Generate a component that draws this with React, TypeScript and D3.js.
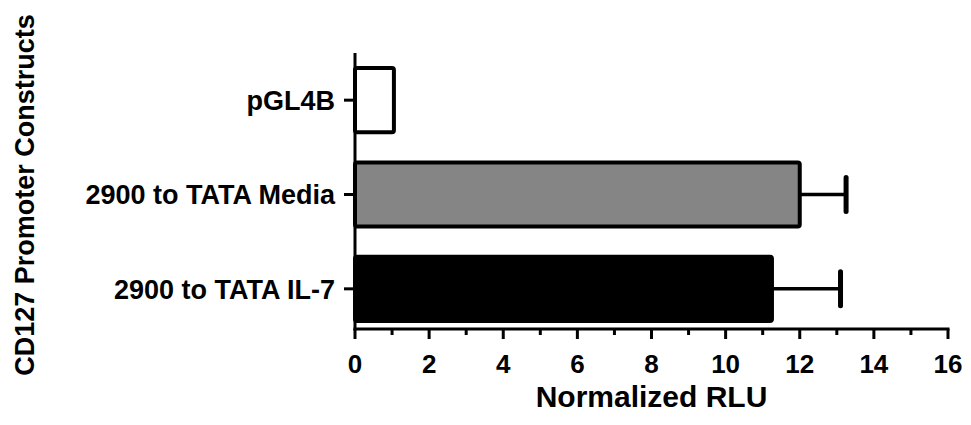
import React from "react";
import * as d3 from "d3";

const categories = ["pGL4B", "2900 to TATA Media", "2900 to TATA IL-7"];
const means = [1.05, 12.0, 11.25];
const errors = [0, 1.25, 1.85];
const xTickValues = [0, 2, 4, 6, 8, 10, 12, 14, 16];
const xTitle = "Normalized RLU";
const yTitle = "CD127 Promoter Constructs";

const barFills: Record<string, string> = {
  "pGL4B": "#ffffff",
  "2900 to TATA Media": "#858585",
  "2900 to TATA IL-7": "#000000",
};

const W = 971;
const H = 425;
const margin = { top: 53, right: 23, bottom: 93, left: 355 };
const font = "'Liberation Sans', Arial, sans-serif";

export default function App() {
  const x = d3.scaleLinear().domain([0, 16]).range([margin.left, W - margin.right]);
  const y = d3
    .scaleBand<string>()
    .domain(categories)
    .range([margin.top, H - margin.bottom + 4])
    .paddingInner(0.32)
    .paddingOuter(0.16);
  const axisY = H - margin.bottom - 3;
  const minor = x.ticks(16).filter((t) => t % 2 !== 0);

  const rows = categories.map((c, i) => ({ c, m: means[i], e: errors[i] }));

  return (
    <svg
      width={W}
      height={H}
      style={{ position: "absolute", left: 0, top: 0, background: "#fff" }}
      fontFamily={font}
      fontWeight="bold"
    >
      {/* bars */}
      {rows.map((d) => {
        const y0 = y(d.c)!;
        const bw = y.bandwidth();
        const cy = y0 + bw / 2;
        return (
          <g key={d.c}>
            {d.e > 0 && (
              <g stroke="#000" strokeLinecap="round">
                <line x1={x(d.m)} x2={x(d.m + d.e)} y1={cy} y2={cy} strokeWidth={3.5} />
                <line x1={x(d.m + d.e)} x2={x(d.m + d.e)} y1={cy - 17} y2={cy + 17} strokeWidth={5} />
              </g>
            )}
            <rect
              x={x(0)}
              y={y0}
              width={x(d.m) - x(0)}
              height={bw}
              rx={2}
              fill={barFills[d.c]}
              stroke="#000"
              strokeWidth={4}
            />
          </g>
        );
      })}

      {/* y axis */}
      <line x1={x(0)} x2={x(0)} y1={margin.top} y2={axisY + 1.5} stroke="#000" strokeWidth={3} />
      {categories.map((c) => {
        const cy = y(c)! + y.bandwidth() / 2;
        return (
          <g key={c}>
            <line x1={x(0) - 11} x2={x(0)} y1={cy} y2={cy} stroke="#000" strokeWidth={3} />
            <text x={335} y={cy} dy="0.36em" textAnchor="end" fontSize={27} fill="#000">
              {c}
            </text>
          </g>
        );
      })}

      {/* x axis */}
      <line x1={x(0) - 1.5} x2={x(16) + 1.5} y1={axisY} y2={axisY} stroke="#000" strokeWidth={3} />
      {minor.map((t) => (
        <line key={"m" + t} x1={x(t)} x2={x(t)} y1={axisY} y2={axisY + 6} stroke="#000" strokeWidth={3} />
      ))}
      {xTickValues.map((t) => (
        <g key={t}>
          <line x1={x(t)} x2={x(t)} y1={axisY} y2={axisY + 10} stroke="#000" strokeWidth={3} />
          <text x={x(t)} y={373} textAnchor="middle" fontSize={26} fill="#000">
            {t}
          </text>
        </g>
      ))}

      <text x={(x(0) + x(16)) / 2} y={407} textAnchor="middle" fontSize={30} fill="#000">
        {xTitle}
      </text>
      <text
        transform={`translate(34, 195) rotate(-90)`}
        textAnchor="middle"
        fontSize={27}
        fill="#000"
      >
        {yTitle}
      </text>
    </svg>
  );
}
